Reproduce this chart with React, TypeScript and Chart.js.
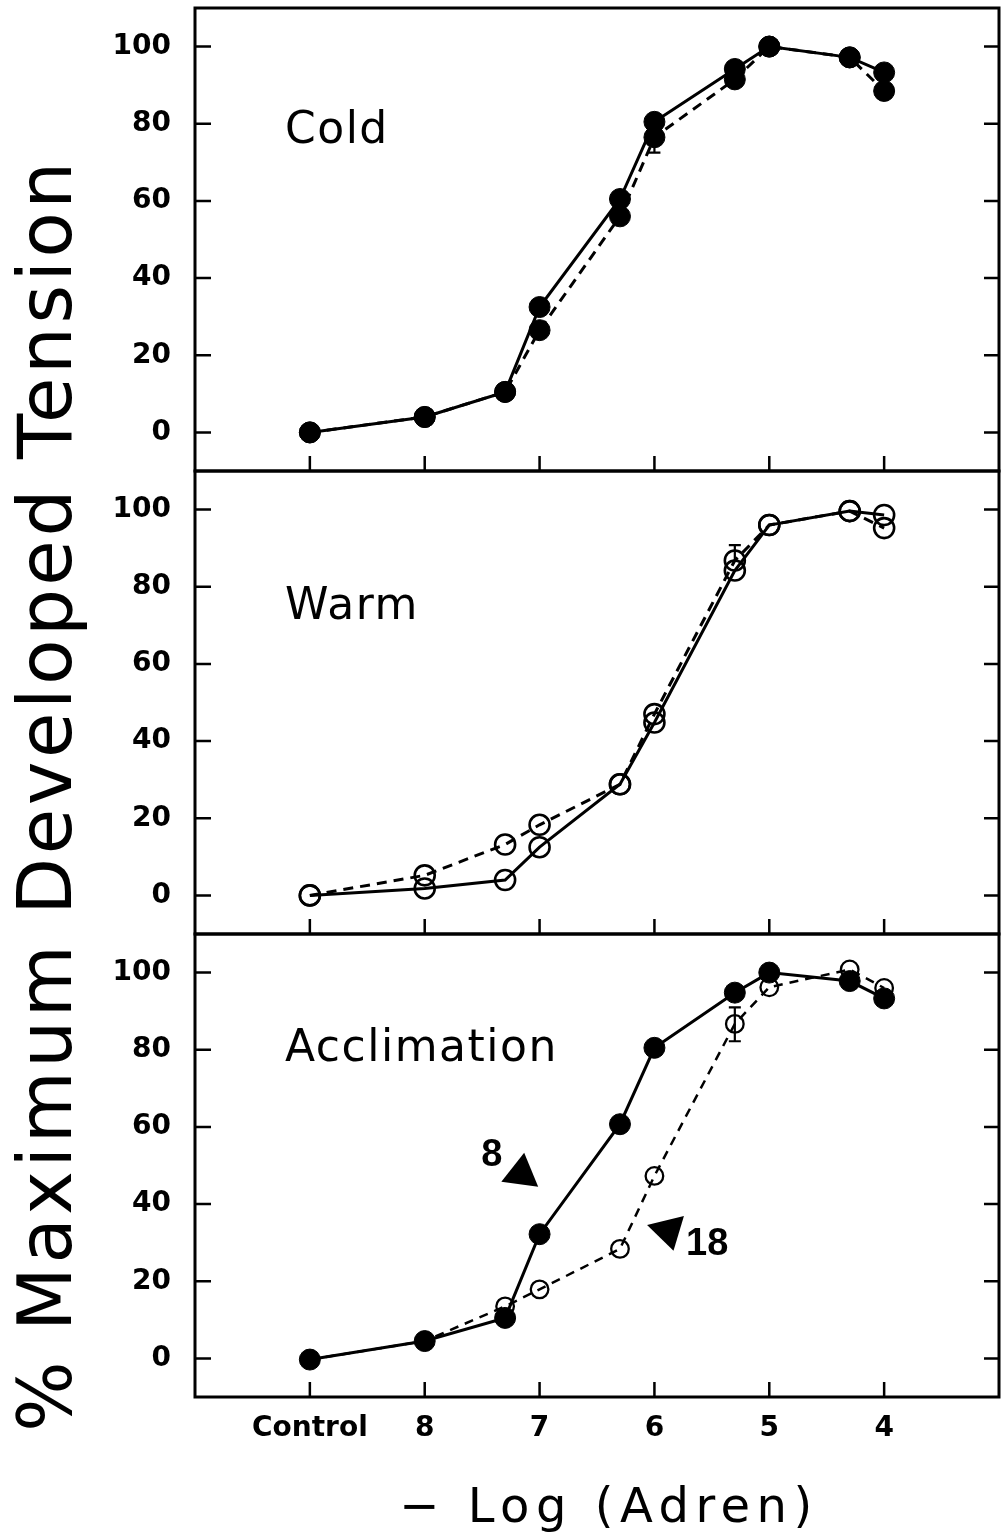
import React, { useEffect, useRef } from 'react';
import { Chart, registerables } from 'chart.js';

Chart.register(...registerables);

// ---- data ----
const xValues = [9, 8, 7.3, 7, 6.3, 6, 5.3, 5, 4.3, 4];
const xTickValues = [9, 8, 7, 6, 5, 4];
const xTickLabels = ['Control', '8', '7', '6', '5', '4'];
const yTickValues = [0, 20, 40, 60, 80, 100];

const coldSolid = [0, 4, 10.5, 32.5, 60.5, 80.5, 94.2, 100, 97.2, 93.3];
const coldDashed = [0, 4, 10.5, 26.5, 56, 76.5, 91.5, 100, 97.2, 88.5];
const warmSolid = [0, 1.8, 4, 12.5, 28.8, 44.8, 84.2, 96, 99.6, 98.6];
const warmDashed = [0, 5.2, 13.2, 18.3, 28.8, 47, 86.8, 96, 99.6, 95.2];
const acclSolid = [-0.3, 4.5, 10.5, 32.2, 60.7, 80.5, 94.8, 100, 97.8, 93.3];
const acclDashed = [-0.3, 4.5, 13.5, 17.9, 28.4, 47.3, 86.7, 96.2, 100.8, 96];

const panelNames = ['Cold', 'Warm', 'Acclimation'];
const panelAxes = ['yCold', 'yWarm', 'yAccl'];

// error bars: axis, x, point value, end value
const errorBars: [string, number, number, number][] = [
  ['yCold', 6, 76.5, 72.5],
  ['yWarm', 5.3, 86.8, 90.8],
  ['yAccl', 5.3, 86.7, 82.2],
  ['yAccl', 5.3, 86.7, 91.0],
];

// annotations in the Acclimation panel (data units)
const acclNoteTexts = ['8', '18'];
const acclNoteX = [7.415, 5.541];
const acclNoteY = [52.5, 29.6];
const acclArrows: [number, number][][] = [
  [[7.134, 53.3], [7.333, 45.8], [7.012, 44.5]],
  [[5.743, 36.9], [6.064, 34.6], [5.834, 27.9]],
];

const yTitle = '% Maximum Developed Tension';
const xTitle = '− Log (Adren)';

// ---- layout / style ----
const W = 1001;
const H = 1539;
const panelLabelDx = 90;
const panelLabelDy = [135, 148, 127];

const toPts = (ys: number[]) => xValues.map((x, i) => ({ x, y: ys[i] }));

const solidStyle = {
  borderColor: '#000',
  borderWidth: 3,
  fill: false,
  tension: 0,
};
const dashedStyle = { ...solidStyle, borderDash: [10, 7] };
const filledPts = {
  pointRadius: 10.5,
  pointBorderWidth: 1,
  pointBackgroundColor: '#000',
  pointBorderColor: '#000',
};
const openPts = {
  pointRadius: 10,
  pointBorderWidth: 2.6,
  pointBackgroundColor: 'rgba(0,0,0,0)',
  pointBorderColor: '#000',
};
const openSmallPts = { ...openPts, pointRadius: 8.8, pointBorderWidth: 2.3 };

const tickFont = { family: 'DejaVu Sans', weight: 'bold' as const, size: 28 };

const zeroPad = (s: any) => {
  s.paddingTop = 0;
  s.paddingBottom = 0;
  s.paddingLeft = 0;
  s.paddingRight = 0;
};

const yAxis = (weight: number) => ({
  type: 'linear' as const,
  position: 'left' as const,
  stack: 'panels',
  stackWeight: 1,
  weight,
  min: -10,
  max: 110,
  afterBuildTicks: (s: any) => {
    s.ticks = yTickValues.map((v) => ({ value: v }));
  },
  afterFit: (s: any) => {
    s.width = 195;
    zeroPad(s);
  },
  grid: { display: false, drawTicks: false },
  border: { display: false },
  ticks: { font: tickFont, color: '#000', padding: 24 },
});

const decorPlugin = {
  id: 'decor',
  afterDatasetsDraw(chart: any) {
    const ctx = chart.ctx;
    const xs = chart.scales.x;
    ctx.save();
    ctx.strokeStyle = '#000';
    ctx.lineWidth = 2.2;
    errorBars.forEach(([axis, x, v, e]) => {
      const s = chart.scales[axis];
      const px = xs.getPixelForValue(x);
      const p0 = s.getPixelForValue(v);
      const p1 = s.getPixelForValue(e);
      ctx.beginPath();
      ctx.moveTo(px, p0);
      ctx.lineTo(px, p1);
      ctx.moveTo(px - 6, p1);
      ctx.lineTo(px + 6, p1);
      ctx.stroke();
    });
    ctx.restore();
  },
  afterDraw(chart: any) {
    const ctx = chart.ctx;
    const { left, right } = chart.chartArea;
    const xs = chart.scales.x;
    ctx.save();
    ctx.strokeStyle = '#000';
    ctx.fillStyle = '#000';
    panelAxes.forEach((id, i) => {
      const s = chart.scales[id];
      ctx.lineWidth = 3;
      ctx.strokeRect(left, s.top, right - left, s.bottom - s.top);
      ctx.lineWidth = 2.5;
      ctx.beginPath();
      yTickValues.forEach((v) => {
        const y = s.getPixelForValue(v);
        ctx.moveTo(left, y);
        ctx.lineTo(left + 16, y);
        ctx.moveTo(right, y);
        ctx.lineTo(right - 15, y);
      });
      xTickValues.forEach((v) => {
        const x = xs.getPixelForValue(v);
        ctx.moveTo(x, s.bottom);
        ctx.lineTo(x, s.bottom - 15);
      });
      ctx.stroke();

      ctx.save();
      ctx.font = '44px "DejaVu Sans"';
      (ctx as any).letterSpacing = '1.5px';
      ctx.textAlign = 'left';
      ctx.textBaseline = 'alphabetic';
      ctx.fillText(panelNames[i], left + panelLabelDx, s.top + panelLabelDy[i]);
      ctx.restore();
    });

    // annotations in Acclimation panel
    const sa = chart.scales.yAccl;
    ctx.save();
    ctx.font = 'bold 38px "Liberation Sans"';
    ctx.textAlign = 'center';
    ctx.textBaseline = 'middle';
    acclNoteTexts.forEach((t, i) => {
      ctx.fillText(t, xs.getPixelForValue(acclNoteX[i]), sa.getPixelForValue(acclNoteY[i]));
    });
    acclArrows.forEach((tri) => {
      ctx.beginPath();
      tri.forEach(([x, y], k) => {
        const px = xs.getPixelForValue(x);
        const py = sa.getPixelForValue(y);
        if (k === 0) ctx.moveTo(px, py);
        else ctx.lineTo(px, py);
      });
      ctx.closePath();
      ctx.fill();
    });
    ctx.restore();

    // y title
    ctx.save();
    ctx.translate(71, 795);
    ctx.rotate(-Math.PI / 2);
    ctx.font = '74px "DejaVu Sans"';
    (ctx as any).letterSpacing = '3.5px';
    ctx.textAlign = 'center';
    ctx.textBaseline = 'alphabetic';
    ctx.fillText(yTitle, 0, 0);
    ctx.restore();

    // x title
    ctx.save();
    ctx.font = '48px "DejaVu Sans"';
    (ctx as any).letterSpacing = '6.5px';
    ctx.textAlign = 'center';
    ctx.textBaseline = 'alphabetic';
    ctx.fillText(xTitle, 609, 1522);
    ctx.restore();

    ctx.restore();
  },
};

export default function App() {
  const ref = useRef<HTMLCanvasElement>(null);
  useEffect(() => {
    const canvas = ref.current;
    if (!canvas) return;
    const chart = new Chart(canvas, {
      type: 'line',
      data: {
        datasets: [
          { data: toPts(coldSolid), yAxisID: 'yCold', ...solidStyle, ...filledPts },
          { data: toPts(coldDashed), yAxisID: 'yCold', ...dashedStyle, ...filledPts },
          { data: toPts(warmSolid), yAxisID: 'yWarm', ...solidStyle, ...openPts },
          { data: toPts(warmDashed), yAxisID: 'yWarm', ...dashedStyle, ...openPts },
          { data: toPts(acclSolid), yAxisID: 'yAccl', ...solidStyle, ...filledPts },
          {
            data: toPts(acclDashed),
            yAxisID: 'yAccl',
            ...dashedStyle,
            borderWidth: 2.5,
            borderDash: [9, 7],
            ...openSmallPts,
          },
        ] as any,
      },
      options: {
        responsive: false,
        animation: false,
        devicePixelRatio: 1,
        layout: { autoPadding: false, padding: { top: 8, right: 2, left: 0, bottom: 0 } },
        plugins: { legend: { display: false }, tooltip: { enabled: false } },
        scales: {
          x: {
            type: 'linear',
            min: 3,
            max: 10,
            reverse: true,
            position: 'bottom',
            afterBuildTicks: (s: any) => {
              s.ticks = xTickValues.map((v) => ({ value: v }));
            },
            afterFit: (s: any) => {
              s.height = 142;
              zeroPad(s);
            },
            grid: { display: false, drawTicks: false },
            border: { display: false },
            ticks: {
              callback: (_v: any, i: number) => xTickLabels[i],
              font: tickFont,
              color: '#000',
              padding: 15,
              maxRotation: 0,
              autoSkip: false,
            },
          },
          yCold: yAxis(3),
          yWarm: yAxis(2),
          yAccl: yAxis(1),
        } as any,
      },
      plugins: [decorPlugin],
    });
    return () => chart.destroy();
  }, []);
  return (
    <div style={{ position: 'absolute', left: 0, top: 0, width: W, height: H, background: '#fff' }}>
      <canvas ref={ref} width={W} height={H} style={{ width: W, height: H, display: 'block' }} />
    </div>
  );
}
